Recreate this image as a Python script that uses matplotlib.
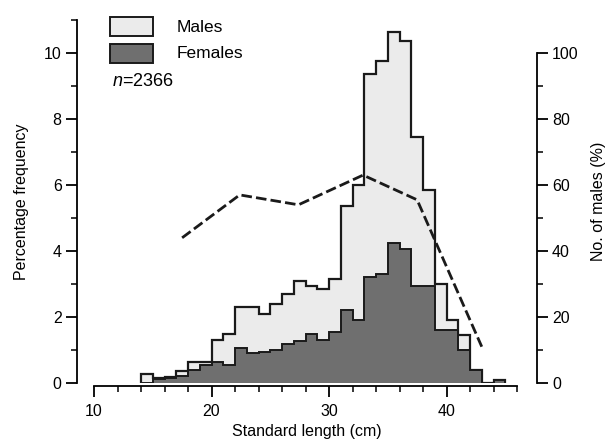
import matplotlib
matplotlib.use("Agg")
import matplotlib.pyplot as plt
import numpy as np
from matplotlib.patches import Rectangle
from matplotlib.ticker import FixedLocator

plt.rcParams['font.family'] = ['Liberation Sans', 'DejaVu Sans']
plt.rcParams['mathtext.fontset'] = 'custom'
plt.rcParams['mathtext.it'] = 'Liberation Sans:italic'
plt.rcParams['mathtext.rm'] = 'Liberation Sans'

# ---- data ----
bin_edges = list(range(14, 46))  # 1-cm classes 14..45
total_pct = [0.28, 0.15, 0.18, 0.35, 0.65, 0.65, 1.3, 1.5, 2.3, 2.3, 2.1, 2.4,
             2.7, 3.1, 2.95, 2.85, 3.15, 5.35, 6.0, 9.35, 9.75, 10.65, 10.35,
             7.45, 5.85, 3.0, 1.9, 1.45, 0.4, 0.0, 0.1]
female_pct = [0.0, 0.12, 0.15, 0.2, 0.4, 0.55, 0.65, 0.55, 1.05, 0.9, 0.95, 1.0,
              1.18, 1.28, 1.5, 1.3, 1.55, 2.2, 1.9, 3.2, 3.3, 4.25, 4.05,
              2.95, 2.95, 1.6, 1.6, 1.0, 0.4, 0.0, 0.1]
ratio_x = [17.5, 22.4, 27.4, 32.9, 37.5, 43.0]
ratio_males = [44, 57, 54, 63, 55.5, 11]

light = '#ebebeb'
dark = '#6f6f6f'
ink = '#1a1a1a'

W, H = 611, 443
fig = plt.figure(figsize=(W / 100, H / 100), dpi=100)

ax_left_px, ax_right_px = 77, 536.7
ax_bottom_px, ax_top_px = 383, 20
ax = fig.add_axes([ax_left_px / W, (H - ax_bottom_px) / H,
                   (ax_right_px - ax_left_px) / W, (ax_bottom_px - ax_top_px) / H])

px_per_cm = 11.75
x0 = 10 - (94 - ax_left_px) / px_per_cm
x1 = x0 + (ax_right_px - ax_left_px) / px_per_cm
ax.set_xlim(x0, x1)
ax.set_ylim(0, 11)

ax.stairs(total_pct, bin_edges, fill=True, facecolor=light, edgecolor='none', zorder=1)
ax.stairs(total_pct, bin_edges, fill=False, edgecolor=ink, linewidth=1.6, baseline=0, zorder=2)
ax.stairs(female_pct, bin_edges, fill=True, facecolor=dark, edgecolor='none', zorder=3)
ax.stairs(female_pct, bin_edges, fill=False, edgecolor=ink, linewidth=1.4, baseline=0, zorder=4)

# spines
for s in ['top', 'right']:
    ax.spines[s].set_visible(False)
ax.spines['left'].set_bounds(0, 11)
ax.spines['left'].set_linewidth(1.3)
ax.spines['bottom'].set_bounds(10, 46)
ax.spines['bottom'].set_position(('outward', 2))
ax.spines['bottom'].set_linewidth(1.3)

ax.xaxis.set_major_locator(FixedLocator([10, 20, 30, 40]))
ax.xaxis.set_minor_locator(FixedLocator([12, 14, 16, 18, 22, 24, 26, 28, 32, 34, 36, 38, 42, 44, 46]))
ax.yaxis.set_major_locator(FixedLocator([0, 2, 4, 6, 8, 10]))
ax.yaxis.set_minor_locator(FixedLocator([1, 3, 5, 7, 9, 11]))
ax.tick_params(axis='x', which='major', length=8, width=1.3, labelsize=11.5, pad=5)
ax.tick_params(axis='x', which='minor', length=4.5, width=1.1)
ax.tick_params(axis='y', which='major', length=8, width=1.3, labelsize=11.5, pad=3)
ax.tick_params(axis='y', which='minor', length=4, width=1.1)

ax.set_xlabel('Standard length (cm)', fontsize=11.5, labelpad=4)
ax.set_ylabel('Percentage frequency', fontsize=11.5, labelpad=11)

# right axis
ax2 = ax.twinx()
ax2.set_ylim(0, 110)
ax2.set_xlim(x0, x1)
for s in ['top', 'left', 'bottom']:
    ax2.spines[s].set_visible(False)
ax2.spines['right'].set_bounds(0, 100)
ax2.spines['right'].set_linewidth(1.3)
ax2.yaxis.set_major_locator(FixedLocator([0, 20, 40, 60, 80, 100]))
ax2.yaxis.set_minor_locator(FixedLocator([10, 30, 50, 70, 90]))
ax2.tick_params(axis='y', which='major', length=8, width=1.3, labelsize=11.5, pad=3)
ax2.tick_params(axis='y', which='minor', length=4, width=1.1)
ax2.set_ylabel('No. of males (%)', fontsize=11.5, labelpad=9)

ax2.plot(ratio_x, ratio_males, color=ink, linewidth=2.0,
         dashes=(3.8, 1.5), solid_capstyle='butt', zorder=5)

# legend (manual)
def fx(px):
    return px / W

def fy(py):
    return (H - py) / H

fig.patches.append(Rectangle((fx(110), fy(36)), fx(153) - fx(110), fy(17) - fy(36),
                             transform=fig.transFigure, facecolor=light,
                             edgecolor=ink, linewidth=1.4))
fig.patches.append(Rectangle((fx(110), fy(63)), fx(153) - fx(110), fy(44) - fy(63),
                             transform=fig.transFigure, facecolor=dark,
                             edgecolor=ink, linewidth=1.4))
fig.text(fx(177), fy(27), 'Males', fontsize=12.5, va='center', ha='left')
fig.text(fx(177), fy(54), 'Females', fontsize=12.5, va='center', ha='left')
fig.text(fx(112), fy(82), r'$n$=2366', fontsize=13, va='center', ha='left')

fig.savefig('out.png', dpi=100)
